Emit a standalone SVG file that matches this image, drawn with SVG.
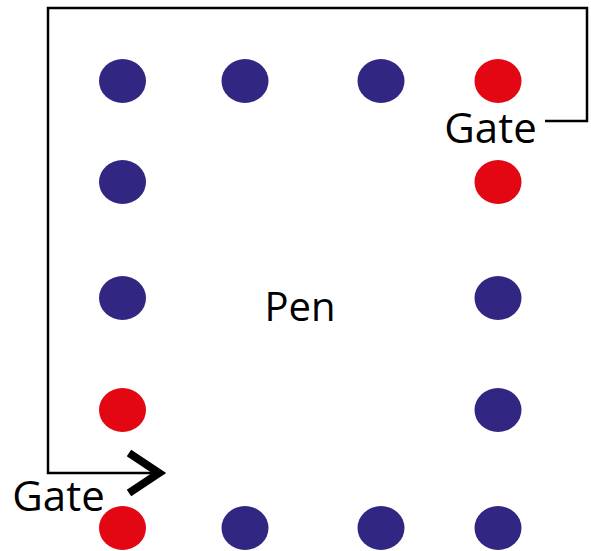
<svg xmlns="http://www.w3.org/2000/svg" width="591" height="551" viewBox="0 0 591 551">
  <style>
    .blue { fill: #312783; }
    .red { fill: #e30613; }
    .fence { fill: none; stroke: #000; stroke-width: 2.5; }
    .label { font-family: "Open Sans", "Noto Sans", sans-serif; fill: #000; }
  </style>
  <rect width="591" height="551" fill="#fff"/>
  <g id="connectors">
    <path class="fence" d="M545,121 H587 V8 H48 V473 H158"/>
    <path d="M129,453 L159,473 L129,493" fill="none" stroke="#000" stroke-width="8"/>
  </g>
  <g id="posts">
    <ellipse class="blue" cx="122.5" cy="81" rx="23.5" ry="22"/>
    <ellipse class="blue" cx="245" cy="81" rx="23.5" ry="22"/>
    <ellipse class="blue" cx="381" cy="81" rx="23.5" ry="22"/>
    <ellipse class="red" cx="498" cy="81" rx="23.5" ry="22"/>
    <ellipse class="blue" cx="122.5" cy="182" rx="23.5" ry="22"/>
    <ellipse class="red" cx="498" cy="182" rx="23.5" ry="22"/>
    <ellipse class="blue" cx="122.5" cy="298" rx="23.5" ry="22"/>
    <ellipse class="blue" cx="498" cy="298" rx="23.5" ry="22"/>
    <ellipse class="red" cx="122.5" cy="410" rx="23.5" ry="22"/>
    <ellipse class="blue" cx="498" cy="410" rx="23.5" ry="22"/>
    <ellipse class="red" cx="122.5" cy="528" rx="23.5" ry="22"/>
    <ellipse class="blue" cx="245" cy="528" rx="23.5" ry="22"/>
    <ellipse class="blue" cx="381" cy="528" rx="23.5" ry="22"/>
    <ellipse class="blue" cx="498" cy="528" rx="23.5" ry="22"/>
  </g>
  <g id="pen"><text class="label" x="300" y="321" font-size="40" text-anchor="middle">Pen</text></g>
  <g id="gate-top"><text class="label" x="490.5" y="143" font-size="42" text-anchor="middle">Gate</text></g>
  <g id="gate-bottom"><text class="label" x="58.5" y="511" font-size="42" text-anchor="middle">Gate</text></g>
</svg>
